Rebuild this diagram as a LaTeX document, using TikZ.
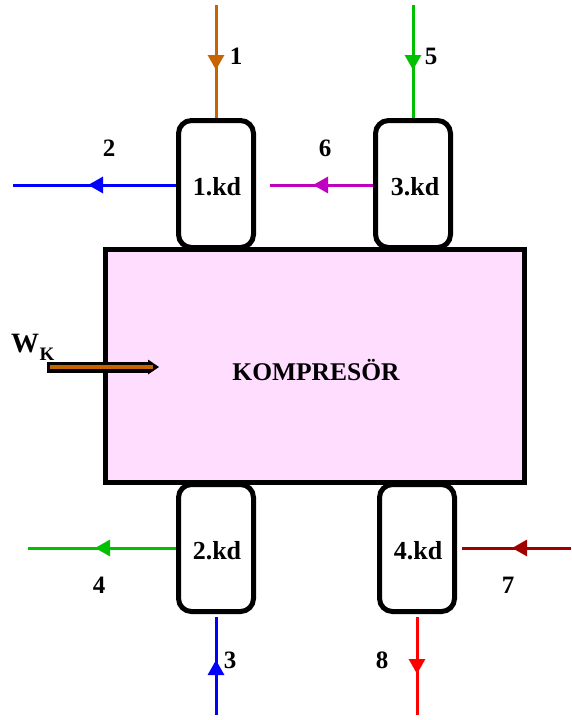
\documentclass[tikz,border=0pt]{standalone}
\usepackage{fontspec}
\setmainfont{Liberation Serif}
\usetikzlibrary{arrows.meta,decorations.markings}
\definecolor{corange}{RGB}{200,100,0}
\definecolor{cgreen}{RGB}{0,192,0}
\definecolor{cblue}{RGB}{0,0,255}
\definecolor{cmag}{RGB}{192,0,192}
\definecolor{cdred}{RGB}{160,0,0}
\definecolor{cred}{RGB}{255,0,0}
\definecolor{cpink}{RGB}{255,221,255}
\tikzset{
  kdbox/.style={draw=black, line width=5pt, rounded corners=13pt, fill=white,
    minimum width=75pt, minimum height=127pt, inner sep=0pt},
  kdtext/.style={font=\fontsize{26}{28}\selectfont\bfseries, inner sep=0pt},
  mainbox/.style={draw=black, line width=5pt, fill=cpink,
    minimum width=419pt, minimum height=233pt, inner sep=0pt},
  flow/.style={line width=3pt},
  midtip/.style={postaction={decorate}, decoration={markings,
    mark=at position #1 with {\arrow{Triangle[length=15pt,width=16pt]}}}},
  num/.style={font=\fontsize{25}{27}\selectfont\bfseries, inner sep=0pt}
}
\begin{document}
\begin{tikzpicture}[x=1pt,y=-1pt]
\useasboundingbox (0,0) rectangle (571,720);
% main compressor
\node[mainbox] (komp) at (315,366) {};
\node[font=\fontsize{25.5}{27}\selectfont\bfseries, inner sep=0pt] (kt) at (316,370) {KOMPRES\"OR};
% heat exchanger boxes
\node[kdbox] (kd1) at (216,184) {};
\node[kdbox] (kd3) at (413,184) {};
\node[kdbox] (kd2) at (216,548) {};
\node[kdbox] (kd4) at (417,548) {};
\node[kdtext] (t1) at (217,187) {1.kd};
\node[kdtext] (t3) at (415,187) {3.kd};
\node[kdtext] (t2) at (217,551) {2.kd};
\node[kdtext] (t4) at (418,551) {4.kd};
% free ends
\coordinate (e1) at (216,5);
\coordinate (e5) at (413,5);
\coordinate (e2) at (13,185);
\coordinate (e6) at (270,185);
\coordinate (e4) at (28,548);
\coordinate (e3) at (216,715);
\coordinate (e7) at (571,548);
\coordinate (e8) at (417,715);
\coordinate (s7) at (462,548);
\coordinate (s3) at (216,617);
\coordinate (s8) at (417,617);
\coordinate (b1) at (176,185);
\coordinate (b3) at (373,185);
% flows
\draw[flow, corange, midtip=65pt] (e1) -- (kd1.north);
\draw[flow, cgreen, midtip=65pt] (e5) -- (kd3.north);
\draw[flow, cblue, midtip=88pt] (b1) -- (e2);
\draw[flow, cmag, midtip=60pt] (b3) -- (e6);
\draw[flow, cgreen, midtip=81pt] (kd2.west) -- (e4);
\draw[flow, cblue, midtip=55pt] (e3) -- (s3);
\draw[flow, cdred, midtip=59pt] (e7) -- (s7);
\draw[flow, cred, midtip=57pt] (s8) -- (e8);
% work input arrow
\coordinate (w0) at (47,367);
\coordinate (w1) at (149,367);
\coordinate (w2) at (159,367);
\draw[line width=11pt, black] (w0) -- (w1);
\fill[black] (148,359.5) -- (w2) -- (148,374.5) -- cycle;
\draw[line width=3.5pt, corange] (50,367) -- (153,367);
% labels
\node[num] (l1) at (236,56) {1};
\node[num] (l5) at (431,56) {5};
\node[num] (l2) at (109,148) {2};
\node[num] (l6) at (325,148) {6};
\node[num] (l4) at (99,585) {4};
\node[num] (l3) at (230,660) {3};
\node[num] (l7) at (508,585) {7};
\node[num] (l8) at (382,660) {8};
\node[font=\fontsize{28}{30}\selectfont\bfseries, inner sep=0pt] (lw) at (25,344) {W};
\node[font=\fontsize{19}{21}\selectfont\bfseries, inner sep=0pt] (lk) at (47,354) {K};
\end{tikzpicture}
\end{document}
